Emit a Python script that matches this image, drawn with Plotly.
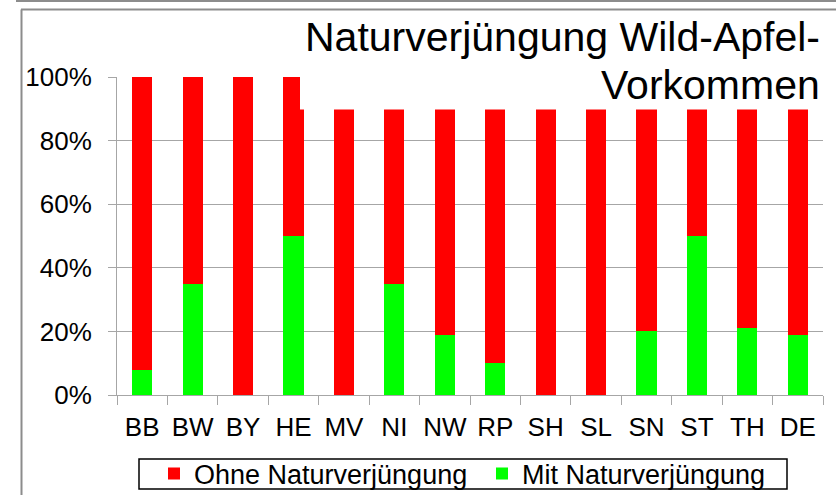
import plotly.graph_objects as go

# Bundesland codes and share of occurrences with / without natural regeneration
laender = ['BB', 'BW', 'BY', 'HE', 'MV', 'NI', 'NW', 'RP', 'SH', 'SL', 'SN', 'ST', 'TH', 'DE']
mit_nv = [0.08, 0.35, 0.0, 0.50, 0.0, 0.35, 0.19, 0.10, 0.0, 0.0, 0.20, 0.50, 0.21, 0.19]
ohne_nv = [1 - v for v in mit_nv]
title_lines = ['Naturverjüngung Wild-Apfel-', 'Vorkommen']

W, H = 836, 495
L, R, T, B = 117, 13, 77, 100
pw, ph = W - L - R, H - T - B


def px(x):
    # pixel -> paper x
    return (x - L) / pw


def py(y):
    # pixel -> paper y
    return (H - B - y) / ph


font = dict(family='Liberation Sans, Arial, sans-serif', size=26, color='black')

fig = go.Figure()
fig.add_trace(go.Bar(x=laender, y=mit_nv, name='Mit Naturverjüngung',
                     marker=dict(color='#00FF00', line=dict(width=0))))
fig.add_trace(go.Bar(x=laender, y=ohne_nv, name='Ohne Naturverjüngung',
                     marker=dict(color='#FF0000', line=dict(width=0))))

fig.update_layout(
    barmode='stack', bargap=0.6,
    width=W, height=H,
    margin=dict(l=L, r=R, t=T, b=B, autoexpand=False),
    paper_bgcolor='white', plot_bgcolor='white',
    font=font,
    showlegend=True,
    legend=dict(orientation='h', traceorder='reversed',
                x=px(154), xanchor='left', y=py(474), yanchor='middle',
                borderwidth=0, bgcolor='rgba(0,0,0,0)',
                font=dict(font, size=27), itemwidth=30, tracegroupgap=0,
                entrywidth=283, entrywidthmode='pixels'),
)

fig.update_yaxes(range=[0, 1], tickformat='.0%', dtick=0.2,
                 showgrid=True, gridcolor='#A6A6A6', gridwidth=1,
                 showline=True, linecolor='#A6A6A6', linewidth=1,
                 ticks='outside', ticklen=8, tickcolor='#A6A6A6',
                 ticklabelstandoff=11, zeroline=False, automargin=False)
fig.update_xaxes(tickson='boundaries', ticks='outside', ticklen=9,
                 tickcolor='#A6A6A6', showline=True, linecolor='#A6A6A6',
                 linewidth=1, showgrid=False, ticklabelstandoff=9,
                 tickangle=0, automargin=False)

# white title box overlapping the top of the plot
fig.add_shape(type='rect', xref='paper', yref='paper',
              x0=px(300), x1=px(W + 5), y0=py(109.5), y1=py(9),
              fillcolor='white', line=dict(width=0), layer='above')

# legend frame
fig.add_shape(type='rect', xref='paper', yref='paper',
              x0=px(139), x1=px(787), y0=py(489), y1=py(459),
              fillcolor='rgba(0,0,0,0)', line=dict(color='black', width=1.5),
              layer='above')

# slide frame lines
grey = '#8C8C8C'
fig.add_shape(type='line', xref='paper', yref='paper',
              x0=px(16), x1=px(W), y0=py(1), y1=py(1),
              line=dict(color=grey, width=2), layer='above')
fig.add_shape(type='line', xref='paper', yref='paper',
              x0=px(21), x1=px(W), y0=py(9.5), y1=py(9.5),
              line=dict(color=grey, width=2), layer='above')
fig.add_shape(type='line', xref='paper', yref='paper',
              x0=px(21.5), x1=px(21.5), y0=py(9.5), y1=py(H),
              line=dict(color=grey, width=2), layer='above')

for i, line in enumerate(title_lines):
    fig.add_annotation(text=line,
                       xref='paper', yref='paper', x=px(822), y=py(12 + 48 * i),
                       xanchor='right', yanchor='top', align='right',
                       showarrow=False,
                       font=dict(family='Liberation Sans, Arial, sans-serif',
                                 size=41, color='black'))

# page has a default 8px body margin; drop it so the figure fills the window
fig.write_html("out.html", config={'displayModeBar': False},
               post_script="document.body.style.margin='0';")
